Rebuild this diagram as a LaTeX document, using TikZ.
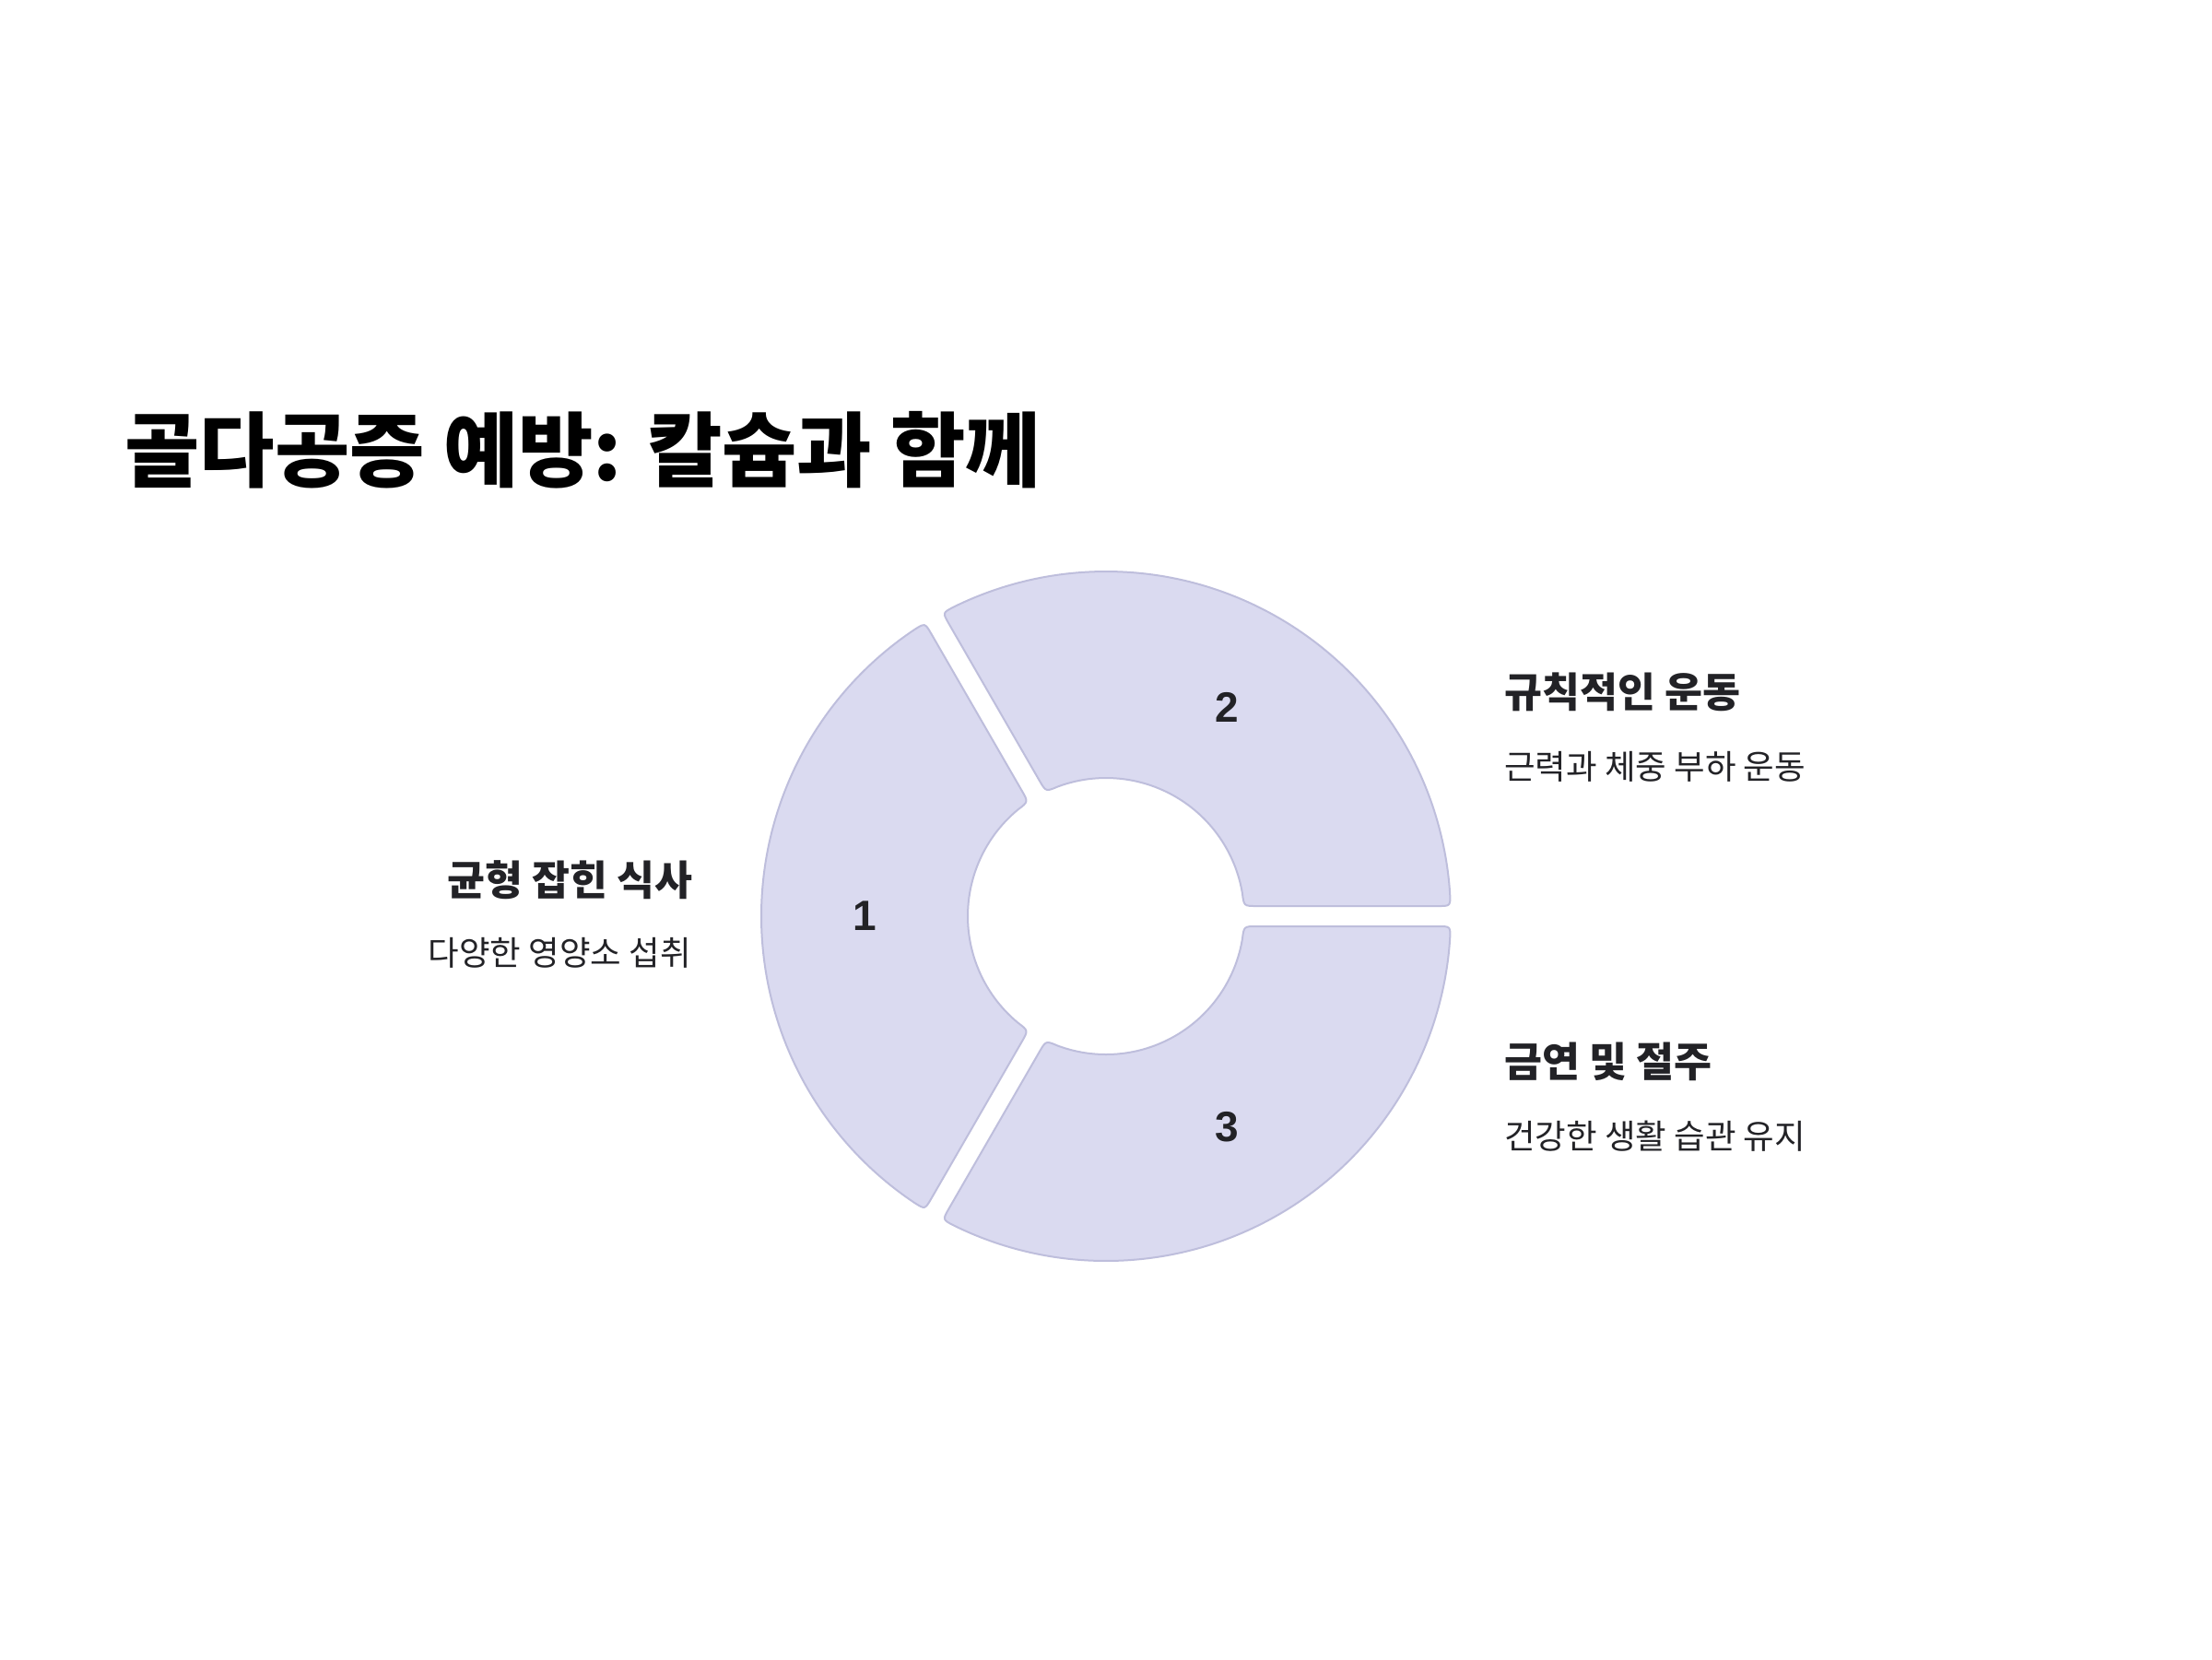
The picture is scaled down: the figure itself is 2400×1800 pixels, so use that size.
\documentclass[tikz,border=0pt]{standalone}
\usepackage{fontspec}
\setmainfont{Noto Sans CJK KR}
\newfontfamily\numfont{Liberation Sans}
\usetikzlibrary{calc}
\definecolor{segfill}{RGB}{218,218,240}
\definecolor{segline}{RGB}{190,190,220}
\definecolor{txt}{RGB}{34,34,38}
% outer radius 374, inner radius 150, half gap 11, corner 14
\newcommand\donutseg[2]{%
 \draw[segstyle]
  ($(C)+(#1+1.685+2.14:374)$)
  arc[start angle=#1+1.685+2.14, end angle=#2-1.685-2.14, radius=374]
  .. controls ($(C)+(#2-1.685:374)$) .. ($(C)+(#2-1.685:374)+(#2:-14)$)
  -- ($(C)+(#2-4.205:150)+(#2:14)$)
  .. controls ($(C)+(#2-4.205:150)$) .. ($(C)+(#2-4.205-5.35:150)$)
  arc[start angle=#2-4.205-5.35, end angle=#1+4.205+5.35, radius=150]
  .. controls ($(C)+(#1+4.205:150)$) .. ($(C)+(#1+4.205:150)+(#1:14)$)
  -- ($(C)+(#1+1.685:374)+(#1:-14)$)
  .. controls ($(C)+(#1+1.685:374)$) .. ($(C)+(#1+1.685+2.14:374)$) -- cycle;
}
\begin{document}
\begin{tikzpicture}[x=1pt,y=1pt,
  segstyle/.style={fill=segfill,draw=segline,line width=2pt},
  numlabel/.style={font=\numfont\bfseries\fontsize{46}{50}\selectfont,text=txt,inner sep=0pt},
  headlabel/.style={font=\bfseries\fontsize{44.5}{50}\selectfont,text=txt,inner sep=0pt},
  sublabel/.style={font=\fontsize{36.5}{42}\selectfont,text=txt,inner sep=0pt},
  titlestyle/.style={font=\bfseries\fontsize{88.5}{98}\selectfont,text=black,inner sep=0pt}]
\useasboundingbox[fill=white] (0,0) rectangle (2400,-1800);
\coordinate (C) at (1200,-994);
\donutseg{0}{120}
\donutseg{120}{240}
\donutseg{240}{360}
\node[numlabel] (n1) at (938,-994) {1};
\node[numlabel] (n2) at (1331,-767) {2};
\node[numlabel] (n3) at (1331,-1223) {3};
\node[titlestyle,anchor=base west] (title) at (135,-521) {골다공증 예방: 칼슘과 함께};
\node[headlabel,anchor=base east] (h1) at (752,-971) {균형 잡힌 식사};
\node[sublabel,anchor=base east] (s1) at (750,-1047) {다양한 영양소 섭취};
\node[headlabel,anchor=base west] (h2) at (1632,-767) {규칙적인 운동};
\node[sublabel,anchor=base west] (s2) at (1632,-845) {근력과 체중 부하 운동};
\node[headlabel,anchor=base west] (h3) at (1632,-1168) {금연 및 절주};
\node[sublabel,anchor=base west] (s3) at (1632,-1246) {건강한 생활 습관 유지};
\end{tikzpicture}
\end{document}
